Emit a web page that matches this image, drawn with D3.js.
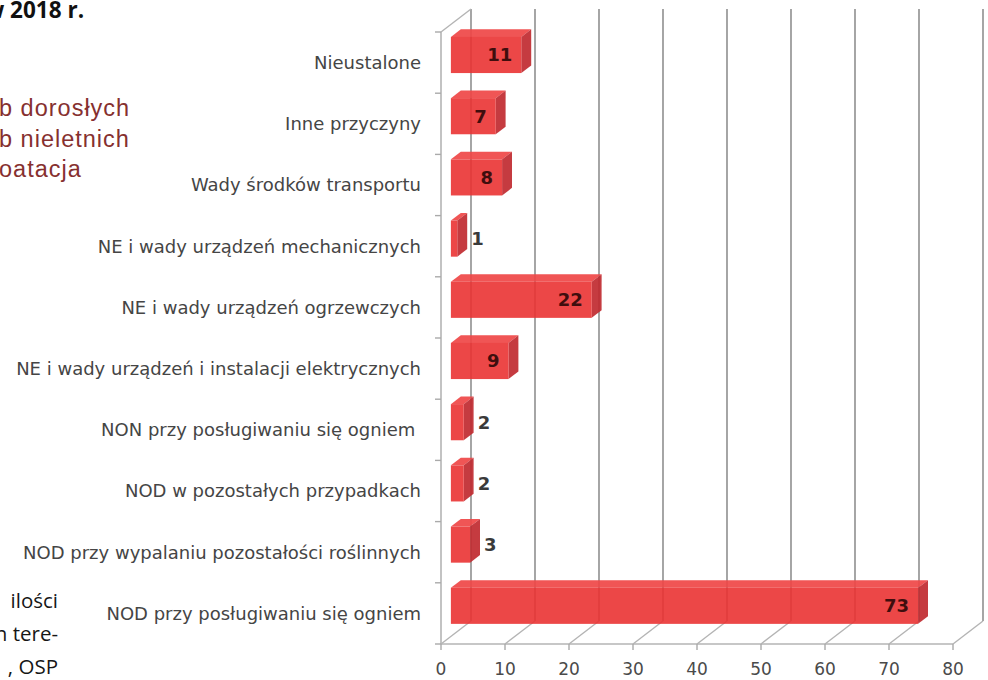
<!DOCTYPE html>
<html>
<head>
<meta charset="utf-8">
<script src="https://cdn.jsdelivr.net/npm/d3@7"></script>
<style>
  body { margin: 0; background: #fff; }
  svg { display: block; }
</style>
</head>
<body>
<div id="chart"></div>
<script>
const categories = [
  'Nieustalone',
  'Inne przyczyny',
  'Wady środków transportu',
  'NE i wady urządzeń mechanicznych',
  'NE i wady urządzeń ogrzewczych',
  'NE i wady urządzeń i instalacji elektrycznych',
  'NON przy posługiwaniu się ogniem ',
  'NOD w pozostałych przypadkach',
  'NOD przy wypalaniu pozostałości roślinnych',
  'NOD przy posługiwaniu się ogniem',
];
const values = [11, 7, 8, 1, 22, 9, 2, 2, 3, 73];
const xTicks = [0, 10, 20, 30, 40, 50, 60, 70, 80];

// fragments of the surrounding page text
const headingText = 'w 2018 r.';
const sideLines = ['b dorosłych', 'b nieletnich', 'oatacja'];
const bodyLines = ['ilości', 'n tere-', ', OSP'];

const W = 988;
const H = 680;
const DX = 30;
const DY = -23;
const Z0 = 0.33;
const Z1 = 0.66;

const svg = d3.select('#chart').append('svg').attr('width', W).attr('height', H);

const x = d3.scaleLinear().domain([0, 80]).range([441, 953]);
const y = d3
  .scaleBand()
  .domain(categories)
  .range([32, 644])
  .paddingInner(0.41)
  .paddingOuter(0.205);

const top0 = y.range()[0];
const bottom0 = y.range()[1];

// page text around the chart
svg.append('text')
  .attr('x', -15)
  .attr('y', 18)
  .style('font-family', '"Open Sans", sans-serif')
  .style('font-weight', 'bold')
  .style('font-size', '22.5px')
  .style('fill', '#111')
  .text(headingText);

svg.selectAll('.side-line')
  .data(sideLines)
  .enter()
  .append('text')
  .attr('class', 'side-line')
  .attr('x', -1)
  .attr('y', (d, i) => 116 + i * 30.5)
  .style('font-family', '"Liberation Sans", Arial, sans-serif')
  .style('font-size', '23.5px')
  .style('letter-spacing', '1px')
  .style('fill', '#86302f')
  .text((d) => d);

svg.selectAll('.body-line')
  .data(bodyLines)
  .enter()
  .append('text')
  .attr('class', 'body-line')
  .attr('x', 58)
  .attr('y', (d, i) => 608 + i * 33)
  .attr('text-anchor', 'end')
  .style('font-family', '"Open Sans", sans-serif')
  .style('font-size', '20.5px')
  .style('fill', '#161616')
  .text((d) => d);

const grid = svg.append('g').attr('class', 'grid');

// back wall lines
grid.selectAll('.back-line')
  .data(xTicks)
  .enter()
  .append('line')
  .attr('x1', (d) => x(d) + DX)
  .attr('x2', (d) => x(d) + DX)
  .attr('y1', top0 + DY)
  .attr('y2', bottom0 + DY)
  .style('stroke', '#9c9c9c')
  .style('stroke-width', 1.8);

// floor lines
grid.selectAll('.floor-line')
  .data(xTicks)
  .enter()
  .append('line')
  .attr('x1', (d) => x(d))
  .attr('x2', (d) => x(d) + DX)
  .attr('y1', bottom0)
  .attr('y2', bottom0 + DY)
  .style('stroke', '#b4b4b4')
  .style('stroke-width', 1.4);

// left wall
grid.append('line')
  .attr('x1', x(0))
  .attr('x2', x(0) + DX)
  .attr('y1', top0)
  .attr('y2', top0 + DY)
  .style('stroke', '#b4b4b4')
  .style('stroke-width', 1.4);

grid.append('line')
  .attr('x1', x(0))
  .attr('x2', x(0))
  .attr('y1', top0)
  .attr('y2', bottom0)
  .style('stroke', '#b4b4b4')
  .style('stroke-width', 1.6);

grid.append('line')
  .attr('x1', x(0))
  .attr('x2', x(80))
  .attr('y1', bottom0)
  .attr('y2', bottom0)
  .style('stroke', '#b4b4b4')
  .style('stroke-width', 1.6);

// category ticks on the left axis
grid.selectAll('.y-tick')
  .data(d3.range(categories.length + 1))
  .enter()
  .append('line')
  .attr('x1', x(0) - 6)
  .attr('x2', x(0))
  .attr('y1', (i) => top0 + i * y.step())
  .attr('y2', (i) => top0 + i * y.step())
  .style('stroke', '#aaa')
  .style('stroke-width', 1.4);

grid.selectAll('.x-tick')
  .data(xTicks)
  .enter()
  .append('line')
  .attr('x1', (d) => x(d))
  .attr('x2', (d) => x(d))
  .attr('y1', bottom0)
  .attr('y2', bottom0 + 6)
  .style('stroke', '#aaa')
  .style('stroke-width', 1.4);

const rows = categories.map((c, i) => ({ name: c, value: values[i] }));

const fx = (v, z) => x(v) + z * DX;
const fy = (c, off, z) => y(c) + off + z * DY;

const bars = svg.append('g').attr('class', 'bars');

bars.selectAll('.bar-top')
  .data(rows)
  .enter()
  .append('polygon')
  .attr('points', (d) =>
    [
      [fx(0, Z0), fy(d.name, 0, Z0)],
      [fx(d.value, Z0), fy(d.name, 0, Z0)],
      [fx(d.value, Z1), fy(d.name, 0, Z1)],
      [fx(0, Z1), fy(d.name, 0, Z1)],
    ].join(' ')
  )
  .style('fill', '#ef4747')
  .style('fill-opacity', 0.92);

bars.selectAll('.bar-side')
  .data(rows)
  .enter()
  .append('polygon')
  .attr('points', (d) =>
    [
      [fx(d.value, Z0), fy(d.name, 0, Z0)],
      [fx(d.value, Z1), fy(d.name, 0, Z1)],
      [fx(d.value, Z1), fy(d.name, y.bandwidth(), Z1)],
      [fx(d.value, Z0), fy(d.name, y.bandwidth(), Z0)],
    ].join(' ')
  )
  .style('fill', '#c02a30')
  .style('fill-opacity', 0.92);

bars.selectAll('.bar')
  .data(rows)
  .enter()
  .append('rect')
  .attr('class', 'bar')
  .attr('x', fx(0, Z0))
  .attr('y', (d) => fy(d.name, 0, Z0))
  .attr('width', (d) => x(d.value) - x(0))
  .attr('height', y.bandwidth())
  .style('fill', '#ea3333')
  .style('fill-opacity', 0.9);

// value labels
svg.selectAll('.value-label')
  .data(rows)
  .enter()
  .append('text')
  .attr('class', 'value-label')
  .attr('x', (d) => (d.value < 5 ? fx(d.value, Z0) + 14 : fx(d.value, Z0) - 9))
  .attr('y', (d) => fy(d.name, y.bandwidth() / 2, Z0))
  .attr('dy', '0.35em')
  .attr('text-anchor', (d) => (d.value < 5 ? 'start' : 'end'))
  .style('font-family', '"DejaVu Sans", sans-serif')
  .style('font-weight', 'bold')
  .style('font-size', '18px')
  .style('fill', (d) => (d.value < 5 ? '#3a3a3a' : '#3f0e0e'))
  .text((d) => d.value);

// category labels
svg.selectAll('.cat-label')
  .data(categories)
  .enter()
  .append('text')
  .attr('class', 'cat-label')
  .attr('x', 421)
  .attr('y', (d) => y(d) + y.bandwidth() / 2)
  .attr('dy', '0.35em')
  .attr('text-anchor', 'end')
  .style('white-space', 'pre')
  .style('font-family', '"DejaVu Sans", sans-serif')
  .style('font-size', '18px')
  .style('fill', '#454545')
  .text((d) => d);

// value axis labels
svg.selectAll('.x-label')
  .data(xTicks)
  .enter()
  .append('text')
  .attr('class', 'x-label')
  .attr('x', (d) => x(d))
  .attr('y', 675)
  .attr('text-anchor', 'middle')
  .style('font-family', '"DejaVu Sans", sans-serif')
  .style('font-size', '17px')
  .style('fill', '#4a4a4a')
  .text((d) => d);
</script>
</body>
</html>
